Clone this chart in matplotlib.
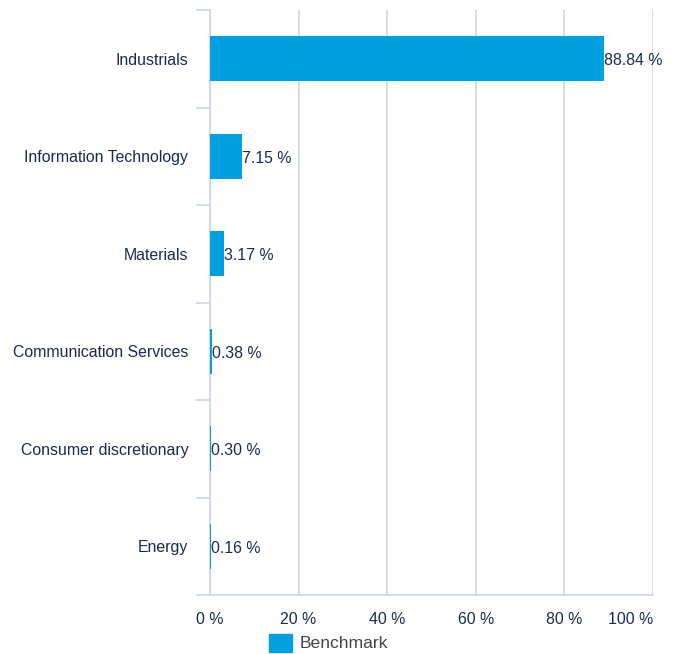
import matplotlib
matplotlib.use("Agg")
import matplotlib.pyplot as plt
from matplotlib.patches import Rectangle

categories = ["Industrials", "Information Technology", "Materials",
              "Communication Services", "Consumer discretionary", "Energy"]
values = [88.84, 7.15, 3.17, 0.38, 0.30, 0.16]
xticks = [0, 20, 40, 60, 80, 100]
xticklabels = ["0 %", "20 %", "40 %", "60 %", "80 %", "100 %"]
series_name = "Benchmark"

bar_color = "#009FDF"
text_color = "#1B2A55"
grid_color = "#CCD6E6"

plt.rcParams['font.family'] = ['Liberation Sans', 'DejaVu Sans']
fs = 11.4

fig = plt.figure(figsize=(6.76, 6.54), dpi=100)
ax = fig.add_axes([210/676, 1-595/654, 443/676, 585/654])

n = len(categories)
ypos = list(range(n))
ax.barh(ypos, values, height=0.46, color=bar_color, linewidth=0, zorder=3)
for y, v in zip(ypos, values):
    ax.text(v, y + 0.02, f"{v:.2f} %", va="center", ha="left", fontsize=fs, color=text_color, zorder=4)

ax.set_xlim(0, 100)
ax.set_ylim(n - 0.5, -0.5)
ax.set_xticks(xticks)
ax.set_xticklabels(xticklabels, fontsize=fs, color=text_color)
labs = ax.get_xticklabels()
labs[-1].set_horizontalalignment("right")
labs[-1].set_x(100)
ax.tick_params(axis="x", length=0, pad=12)
ax.grid(axis="x", color=grid_color, linewidth=1.2, zorder=0)

# category labels and separators
ax.set_yticks(ypos)
ax.set_yticklabels(categories, fontsize=fs, color=text_color)
for t in ax.get_yticklabels():
    t.set_y(t.get_position()[1])
ax.tick_params(axis="y", length=0, pad=15.5)
ax.set_yticks([i - 0.5 for i in range(n + 1)], minor=True)
ax.tick_params(axis="y", which="minor", length=10, color=grid_color, width=1.2)

for s in ["top", "right"]:
    ax.spines[s].set_visible(False)
for s in ["left", "bottom"]:
    ax.spines[s].set_color(grid_color)
    ax.spines[s].set_linewidth(1.2)

# legend
fig.patches.append(Rectangle((269/676, 1-652/654), 23/676, 18/654, transform=fig.transFigure,
                             color=bar_color, figure=fig))
fig.text(300/676, 1-643/654, series_name, fontsize=12.6, color="#444444", va="center", ha="left")

fig.savefig("out.png", dpi=100)
